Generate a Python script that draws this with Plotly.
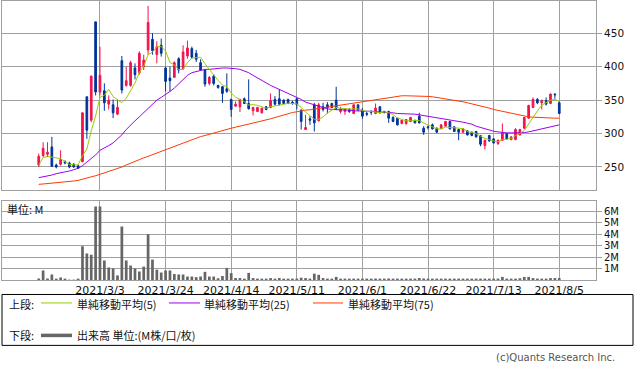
import plotly.graph_objects as go
import pandas as pd

# ---------------- data ----------------
HOLIDAYS = ["2021-02-11", "2021-02-23", "2021-04-29", "2021-05-03", "2021-05-04",
            "2021-05-05", "2021-07-22", "2021-07-23"]
DATES = [d.strftime("%Y-%m-%d") for d in
         pd.bdate_range("2021-02-09", "2021-08-05", freq="C", holidays=HOLIDAYS)]

OPEN = [253, 267, 269, 280, 253, 254, 258, 256, 254, 252,
        258, 355, 320, 467, 362, 364, 344, 343, 329, 409,
        372, 372, 398, 391, 400, 425, 441, 418, 432, 398,
        383, 384, 412, 397, 416, 427, 420, 406, 395, 375,
        386, 372, 370, 367, 351, 341, 340, 352, 345, 334,
        333, 331, 340, 339, 351, 352, 350, 351, 347, 352,
        335, 306, 322, 343, 319, 340, 343, 345, 350, 333,
        333, 336, 330, 343, 335, 330, 333, 330, 340, 333,
        333, 324, 323, 315, 315, 318, 320, 326, 308, 310,
        313, 308, 308, 311, 318, 310, 306, 302, 304, 302,
        303, 297, 282, 297, 292, 285, 290, 300, 291, 291,
        298, 308, 323, 339, 351, 346, 349, 345, 359, 346]
HIGH = [270, 287, 287, 295, 255, 275, 260, 258, 256, 253,
        331, 355, 386, 467, 430, 375, 357, 351, 351, 416,
        400, 409, 405, 423, 418, 491, 450, 438, 442, 400,
        400, 408, 414, 432, 439, 430, 425, 411, 396, 386,
        389, 373, 371, 390, 352, 348, 352, 354, 381, 340,
        340, 338, 341, 360, 356, 366, 351, 352, 349, 353,
        336, 328, 326, 346, 346, 346, 347, 346, 370, 340,
        338, 338, 343, 343, 338, 333, 335, 345, 341, 334,
        334, 326, 323, 320, 321, 325, 320, 331, 311, 312,
        315, 309, 314, 319, 319, 311, 307, 308, 305, 303,
        304, 298, 291, 298, 293, 291, 315, 301, 296, 308,
        307, 325, 343, 354, 353, 351, 354, 360, 360, 348]
LOW = [250, 265, 265, 250, 248, 252, 254, 248, 249, 247,
       257, 292, 317, 357, 357, 334, 336, 323, 328, 360,
       370, 370, 381, 388, 395, 418, 418, 405, 415, 363,
       363, 384, 390, 395, 412, 412, 407, 394, 370, 372,
       372, 367, 346, 361, 325, 340, 332, 344, 336, 327,
       332, 330, 335, 338, 342, 342, 344, 344, 343, 336,
       306, 306, 313, 303, 318, 333, 330, 338, 335, 330,
       328, 331, 329, 334, 322, 326, 328, 329, 330, 330,
       316, 317, 312, 314, 313, 317, 315, 315, 298, 306,
       306, 301, 307, 310, 306, 303, 290, 301, 297, 296,
       294, 281, 276, 288, 285, 283, 289, 291, 290, 290,
       297, 307, 322, 338, 344, 336, 342, 344, 352, 329]
CLOSE = [266, 278, 272, 251, 250, 261, 256, 250, 250, 248,
         331, 305, 386, 362, 387, 346, 350, 331, 339, 365,
         379, 406, 388, 420, 410, 466, 424, 430, 420, 378,
         379, 406, 395, 422, 428, 414, 411, 395, 374, 384,
         375, 369, 360, 363, 336, 344, 351, 345, 337, 339,
         339, 338, 336, 349, 344, 344, 345, 345, 345, 343,
         318, 309, 320, 316, 343, 336, 339, 339, 338, 336,
         336, 333, 343, 335, 326, 329, 332, 338, 331, 332,
         323, 318, 313, 320, 321, 324, 316, 316, 302, 309,
         307, 302, 313, 318, 307, 303, 302, 307, 298, 297,
         295, 284, 290, 289, 286, 290, 301, 292, 295, 306,
         306, 324, 342, 351, 346, 349, 344, 359, 358, 330]
VOLUME_M = [0.13, 0.83, 0.13, 0.48, 0.10, 0.22, 0.05, 0.03, 0.03, 0.04,
            2.94, 2.30, 2.20, 6.40, 6.40, 1.70, 1.09, 1.00, 0.40, 4.65,
            1.70, 1.26, 1.00, 0.74, 1.17, 3.98, 1.78, 0.90, 0.65, 0.83,
            0.83, 0.52, 0.48, 0.48, 0.30, 0.30, 0.25, 0.30, 0.71, 0.30,
            0.30, 0.15, 0.35, 1.05, 0.60, 0.17, 0.17, 0.10, 0.62, 0.17,
            0.10, 0.10, 0.06, 0.17, 0.10, 0.17, 0.10, 0.05, 0.05, 0.08,
            0.20, 0.17, 0.12, 0.55, 0.45, 0.17, 0.09, 0.05, 0.27, 0.06,
            0.05, 0.04, 0.05, 0.04, 0.05, 0.04, 0.04, 0.13, 0.04, 0.05,
            0.13, 0.04, 0.05, 0.04, 0.05, 0.04, 0.05, 0.17, 0.13, 0.04,
            0.04, 0.05, 0.04, 0.05, 0.04, 0.05, 0.10, 0.04, 0.05, 0.04,
            0.05, 0.10, 0.04, 0.05, 0.04, 0.05, 0.27, 0.12, 0.10, 0.06,
            0.15, 0.27, 0.27, 0.17, 0.12, 0.06, 0.10, 0.17, 0.17, 0.17]
MA5 = [253, 264, 266, 265, 263.4, 262.4, 258, 253.6, 253.4, 253,
       267, 276.8, 304, 326.4, 354.2, 357.2, 366.2, 355.2, 350.6, 346.2,
       352.8, 364, 375.4, 391.6, 400.6, 418, 421.6, 430, 430, 423.6,
       406.2, 402.6, 395.6, 396, 406, 413, 414, 414, 404.4, 395.6,
       387.8, 379.4, 372.4, 370.2, 360.6, 354.4, 350.8, 347.8, 342.6, 343.2,
       342.2, 339.6, 337.8, 340.2, 341.2, 342.2, 343.6, 345.4, 344.6, 344.4,
       339.2, 332, 327, 321.2, 321.2, 324.8, 330.8, 334.6, 339, 337.6,
       337.6, 336.4, 337.2, 336.6, 334.6, 333.2, 333, 332, 331.2, 332.4,
       331.2, 328.4, 323.4, 321.2, 319, 319.2, 318.8, 319.4, 315.8, 313.4,
       310, 307.2, 306.6, 309.8, 309.4, 308.6, 308.6, 307.4, 303.4, 301.4,
       299.8, 296.2, 292.8, 291, 288.8, 287.8, 291.2, 291.6, 292.8, 296.8,
       300, 304.6, 314.6, 325.8, 333.8, 342.4, 346.4, 349.8, 351.2, 348]
MA25 = [234, 235, 237, 238, 240, 241, 243, 244, 246, 248,
        252, 257, 262, 268, 275, 278, 282, 286, 292, 298,
        306, 313, 319, 325, 331, 338, 344, 350, 354, 358,
        363, 368, 374, 381, 387, 391, 393, 395, 396, 396,
        397, 397, 398, 398, 398, 397, 396, 394, 391, 387,
        383, 379, 375, 372, 369, 366, 363, 361, 358, 355,
        351, 347, 345, 343, 340, 338, 337, 336, 336, 335,
        335, 335, 334, 334, 334, 334, 333, 333, 332, 332,
        331, 331, 330, 330, 330, 329, 329, 328, 327, 326,
        325, 324, 323, 322, 321, 319.5, 318, 317, 315.5, 314,
        311, 309, 307, 305, 303.5, 302.5, 301.5, 301, 301, 301,
        301, 301.5, 302.5, 304, 305.5, 307, 308.5, 310, 311.5, 313]
MA75 = [224, 224.5, 225, 225.5, 226, 226.5, 227, 228, 229, 230,
        231.5, 233, 235, 237, 239, 241, 243, 245, 247.5, 250,
        253, 256, 258.5, 261, 263.5, 266, 268.5, 271, 273.5, 276,
        278.5, 281, 283.5, 286, 288.5, 291, 293.5, 295.5, 297, 299,
        301, 303, 305, 306.5, 308, 309.5, 311, 312, 313.5, 315,
        316.5, 318, 320, 322, 324, 326, 328.5, 330, 331.5, 332.5,
        334, 335, 335.5, 336, 337.5, 338.5, 339.5, 340.5, 341.5, 342.5,
        343.5, 344.5, 346, 347, 348, 349, 350, 351, 352, 353,
        353.5, 354.5, 356, 356.5, 356.5, 356.5, 356.5, 356.5, 356, 355.5,
        355, 354, 353, 352.5, 351.5, 350, 349, 347.5, 346, 344.5,
        343.5, 342, 340, 338, 336, 334.5, 333, 331.5, 330, 328.5,
        327, 326, 325, 324.5, 324, 324, 323.5, 323.5, 323, 323]

TICK_DATES = ["2021-03-03", "2021-03-24", "2021-04-14", "2021-05-11",
              "2021-06-01", "2021-06-22", "2021-07-13", "2021-08-05"]
TICK_LABELS = ["2021/3/3", "2021/3/24", "2021/4/14", "2021/5/11",
               "2021/6/1", "2021/6/22", "2021/7/13", "2021/8/5"]
PRICE_TICKS = [250, 300, 350, 400, 450]
VOL_TICKS = [1, 2, 3, 4, 5, 6]
VOL_TICK_LABELS = ["1M", "2M", "3M", "4M", "5M", "6M"]

# ---------------- style ----------------
W, H = 634, 370
RED = "#F2134C"
BLUE = "#003399"
C_MA5 = "#99CC00"
C_MA25 = "#9A00F0"
C_MA75 = "#FF3A00"
GRID = "#a0a0a0"
VOLC = "#666666"
JP = "Noto Sans CJK JP"
LAT = "DejaVu Sans"

PLOT_L, PLOT_R, PLOT_T, PLOT_B = 2, 596, 1, 280.5
PRICE_BOTTOM_PX, VOL_TOP_PX = 190, 201


def px(x):
    return (x - PLOT_L) / (PLOT_R - PLOT_L)


def py(y):
    return (PLOT_B - y) / (PLOT_B - PLOT_T)


fig = go.Figure()
fig.add_trace(go.Candlestick(
    x=DATES, open=OPEN, high=HIGH, low=LOW, close=CLOSE,
    increasing=dict(line=dict(color=RED, width=1), fillcolor=RED),
    decreasing=dict(line=dict(color=BLUE, width=1), fillcolor=BLUE),
    whiskerwidth=0, xaxis="x", yaxis="y", showlegend=False, hoverinfo="skip"))
for vals, col in ((MA75, C_MA75), (MA25, C_MA25), (MA5, C_MA5)):
    fig.add_trace(go.Scatter(x=DATES, y=vals, mode="lines",
                             line=dict(color=col, width=1),
                             xaxis="x", yaxis="y", showlegend=False, hoverinfo="skip"))
fig.add_trace(go.Bar(x=DATES, y=VOLUME_M, marker=dict(color=VOLC, line=dict(width=0)),
                     xaxis="x2", yaxis="y2", showlegend=False, hoverinfo="skip"))

xcommon = dict(type="category", range=[-8.4, 127.4], tickvals=TICK_DATES,
               ticktext=TICK_LABELS, showgrid=True, gridcolor=GRID, gridwidth=1,
               showline=True, mirror=True, linecolor=GRID, linewidth=1,
               ticks="", zeroline=False, fixedrange=True)

fig.update_layout(
    width=W, height=H,
    margin=dict(l=PLOT_L, r=W - PLOT_R, t=PLOT_T, b=H - PLOT_B),
    paper_bgcolor="white", plot_bgcolor="white",
    showlegend=False, boxgap=0.45, bargap=0.38,
    xaxis=dict(domain=[0, 1], anchor="y", showticklabels=False,
               rangeslider=dict(visible=False), **xcommon),
    xaxis2=dict(domain=[0, 1], anchor="y2", matches="x", showticklabels=True,
                tickfont=dict(family=LAT, size=11, color="#111"), **xcommon),
    yaxis=dict(domain=[py(PRICE_BOTTOM_PX), 1], side="right", range=[216.1, 498.2],
               tickvals=PRICE_TICKS, ticks="outside", ticklen=5, tickcolor=GRID,
               showgrid=True, gridcolor=GRID, showline=True, mirror=True,
               linecolor=GRID, zeroline=False,
               tickfont=dict(family=LAT, size=10.5, color="#111")),
    yaxis2=dict(domain=[0, py(VOL_TOP_PX)], side="right", range=[0, 6.91],
                tickvals=VOL_TICKS, ticktext=VOL_TICK_LABELS, ticks="outside",
                ticklen=5, tickcolor=GRID, showgrid=True, gridcolor=GRID,
                showline=True, mirror=True, linecolor=GRID, zeroline=False,
                tickfont=dict(family=LAT, size=10, color="#111")),
)

ROW1, ROW2 = 304.5, 336
shapes = [
    dict(type="rect", xref="paper", yref="paper", x0=px(2), x1=px(633),
         y0=py(346), y1=py(295), line=dict(color="black", width=1)),
    dict(type="line", xref="paper", yref="paper", x0=px(41), x1=px(72),
         y0=py(ROW1 - 1), y1=py(ROW1 - 1), line=dict(color=C_MA5, width=1)),
    dict(type="line", xref="paper", yref="paper", x0=px(169), x1=px(200),
         y0=py(ROW1 - 1), y1=py(ROW1 - 1), line=dict(color=C_MA25, width=1)),
    dict(type="line", xref="paper", yref="paper", x0=px(313), x1=px(343),
         y0=py(ROW1 - 1), y1=py(ROW1 - 1), line=dict(color=C_MA75, width=1)),
    dict(type="line", xref="paper", yref="paper", x0=px(41), x1=px(72),
         y0=py(ROW2), y1=py(ROW2), line=dict(color=VOLC, width=3.5)),
]
fig.update_layout(shapes=shapes)


def ann(text, x, y, size=11, color="#111", family=JP, xanchor="left"):
    fig.add_annotation(text=text, x=px(x), y=py(y), xref="paper", yref="paper",
                       showarrow=False, xanchor=xanchor, yanchor="middle",
                       borderpad=0, font=dict(family=family, size=size, color=color))


ann("単位: M", 6, 209, size=11)
ann("上段:", 8, ROW1)
ann("単純移動平均(5)", 76, ROW1)
ann("単純移動平均(25)", 203, ROW1)
ann("単純移動平均(75)", 347, ROW1)
ann("下段:", 8, ROW2)
ann("出来高 単位:(M株/口/枚)", 76, ROW2)
ann("(c)Quants Research Inc.", 616, 358, size=10, color="#555", family=LAT,
    xanchor="right")

fig.write_html("out.html", config=dict(displayModeBar=False))

# remove the default page margin so the figure sits at the window origin
with open("out.html", "r", encoding="utf-8") as f:
    page = f.read()
page = page.replace("<head>", "<head><style>html,body{margin:0;padding:0;overflow:hidden;}</style>", 1)
with open("out.html", "w", encoding="utf-8") as f:
    f.write(page)
